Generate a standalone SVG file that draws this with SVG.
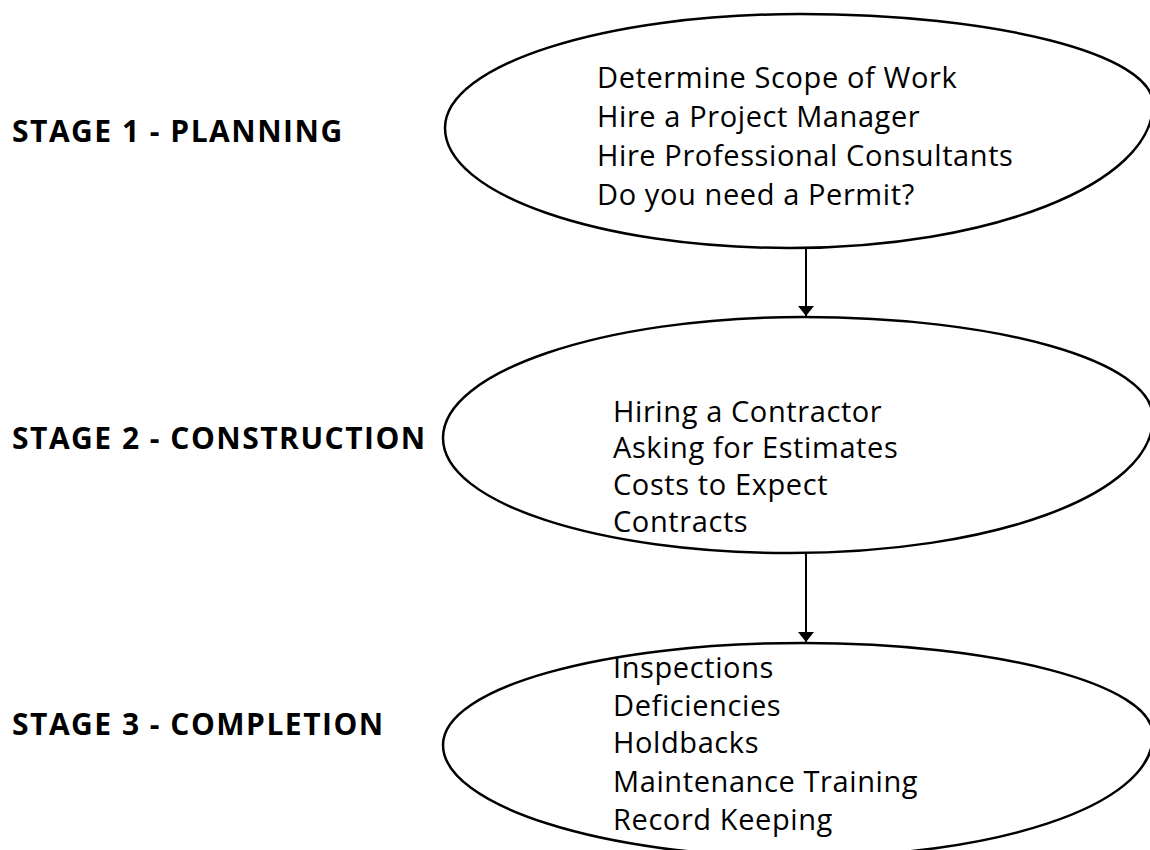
<svg xmlns="http://www.w3.org/2000/svg" width="1150" height="850" viewBox="0 0 1150 850">
  <style>
    .stage { font-family: "Open Sans", "Liberation Sans", sans-serif; font-weight: 700; font-size: 30px; fill: #000; letter-spacing: 1.5px; }
    .item { font-family: "Open Sans", "Liberation Sans", sans-serif; font-size: 29px; fill: #000; letter-spacing: 0.6px; }
    .oval { fill: #fff; stroke: #000; stroke-width: 2.5; }
    .link { stroke: #000; stroke-width: 2; fill: none; }
  </style>
  <defs>
    <marker id="arrow" viewBox="0 0 10 16" refX="10" refY="8" markerWidth="10" markerHeight="16" markerUnits="userSpaceOnUse" orient="auto">
      <path d="M0,0 L10,8 L0,16 Z" fill="#000"/>
    </marker>
  </defs>
  <rect width="1150" height="850" fill="#fff"/>

  <!-- stage titles -->
  <g id="label-stage1"><text class="stage" x="12" y="142">STAGE 1 - PLANNING</text></g>
  <g id="label-stage2"><text class="stage" x="12" y="449">STAGE 2 - CONSTRUCTION</text></g>
  <g id="label-stage3"><text class="stage" x="12" y="735">STAGE 3 - COMPLETION</text></g>

  <!-- stage 1 -->
  <g id="stage1">
    <path class="oval" d="M445,128 C445,65 604,14 800,14 C995,14 1153,54 1153,104 C1153,184 990,248 790,248 C599,248 445,194 445,128 Z"/>
    <text class="item" x="597" y="88">Determine Scope of Work</text>
    <text class="item" x="597" y="127">Hire a Project Manager</text>
    <text class="item" x="597" y="166">Hire Professional Consultants</text>
    <text class="item" x="597" y="205">Do you need a Permit?</text>
  </g>

  <!-- stage 2 -->
  <g id="stage2">
    <path class="oval" d="M443,438 C443,372 602,317 803,317 C995,317 1153,360 1153,418 C1153,496 990,553 790,553 C599,553 443,503 443,438 Z"/>
    <text class="item" x="613" y="422">Hiring a Contractor</text>
    <text class="item" x="613" y="458">Asking for Estimates</text>
    <text class="item" x="613" y="495">Costs to Expect</text>
    <text class="item" x="613" y="532">Contracts</text>
  </g>

  <!-- stage 3 -->
  <g id="stage3">
    <path class="oval" d="M443,745 C443,688 602,643 803,643 C995,643 1153,684 1153,735 C1153,808 990,857 800,857 C602,857 443,805 443,745 Z"/>
    <text class="item" x="613" y="678">Inspections</text>
    <text class="item" x="613" y="716">Deficiencies</text>
    <text class="item" x="613" y="753">Holdbacks</text>
    <text class="item" x="613" y="792">Maintenance Training</text>
    <text class="item" x="613" y="830">Record Keeping</text>
  </g>

  <!-- connectors -->
  <g id="connectors">
    <line class="link" x1="806" y1="248" x2="806" y2="316" marker-end="url(#arrow)"/>
    <line class="link" x1="806" y1="553" x2="806" y2="642" marker-end="url(#arrow)"/>
  </g>
</svg>
